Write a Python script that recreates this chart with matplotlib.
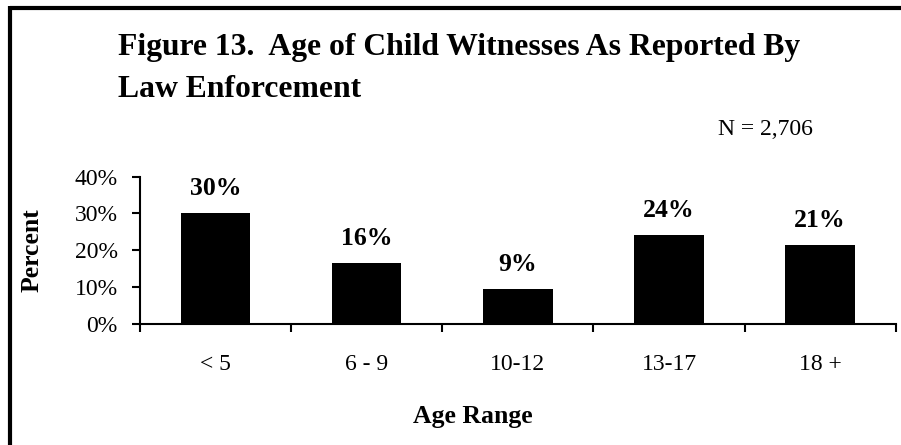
import matplotlib.pyplot as plt
from matplotlib.lines import Line2D

plt.rcParams['font.family'] = ['Liberation Serif', 'DejaVu Serif']

# data
age_ranges = ["< 5", "6 - 9", "10-12", "13-17", "18 +"]
percents = [30.0, 16.6, 9.4, 24.1, 21.4]
bar_labels = ["30%", "16%", "9%", "24%", "21%"]
y_ticks = [0, 10, 20, 30, 40]
y_tick_labels = ["0%", "10%", "20%", "30%", "40%"]

W, H = 901, 445
fig = plt.figure(figsize=(W / 100, H / 100), dpi=100)
ax = fig.add_axes([140 / W, 1 - 323.7 / H, (895.7 - 140) / W, (323.7 - 176.7) / H])

x = list(range(len(age_ranges)))
ax.bar(x, percents, width=0.46, color='black')
for xi, v, lab in zip(x, percents, bar_labels):
    ax.annotate(lab, (xi, v), xytext=(0, 13), textcoords='offset points',
                ha='center', va='baseline', fontsize=18.5, fontweight='bold')

ax.set_xlim(-0.5, 4.5)
ax.set_ylim(0, 40)
ax.set_yticks(y_ticks)
ax.set_yticklabels(y_tick_labels, fontsize=17)
# category labels in the middle, tick marks on the boundaries
ax.set_xticks([i + 0.5 for i in range(-1, len(age_ranges))])
ax.set_xticklabels([])
ax.set_xticks(x, minor=True)
ax.set_xticklabels(age_ranges, minor=True, fontsize=17)
ax.tick_params(axis='x', which='minor', length=0, pad=22)
ax.tick_params(axis='x', which='major', length=6, width=1.5, direction='out')
ax.tick_params(axis='y', length=6, width=1.5, direction='out', pad=10)
for s in ['top', 'right']:
    ax.spines[s].set_visible(False)
for s in ['left', 'bottom']:
    ax.spines[s].set_linewidth(1.5)

fig.text(32 / W, 1 - 250 / H, "Percent", rotation=90, ha='center', va='center',
         fontsize=18.5, fontweight='bold')
fig.text(473 / W, 1 - 423 / H, "Age Range", ha='center', va='baseline',
         fontsize=18.5, fontweight='bold')

fig.text(118 / W, 1 - 55 / H, "Figure 13.  Age of Child Witnesses As Reported By",
         ha='left', va='baseline', fontsize=22.8, fontweight='bold')
fig.text(118 / W, 1 - 97 / H, "Law Enforcement",
         ha='left', va='baseline', fontsize=22.8, fontweight='bold')
fig.text(718 / W, 1 - 135 / H, "N = 2,706", ha='left', va='baseline', fontsize=17)

# frame lines (top and left)
fig.add_artist(Line2D([10 / W, 1], [1 - 8 / H, 1 - 8 / H], color='black', lw=3,
                      transform=fig.transFigure, solid_capstyle='butt'))
fig.add_artist(Line2D([10 / W, 10 / W], [0, 1 - 6 / H], color='black', lw=3,
                      transform=fig.transFigure, solid_capstyle='butt'))

fig.savefig("out.png", dpi=100)
